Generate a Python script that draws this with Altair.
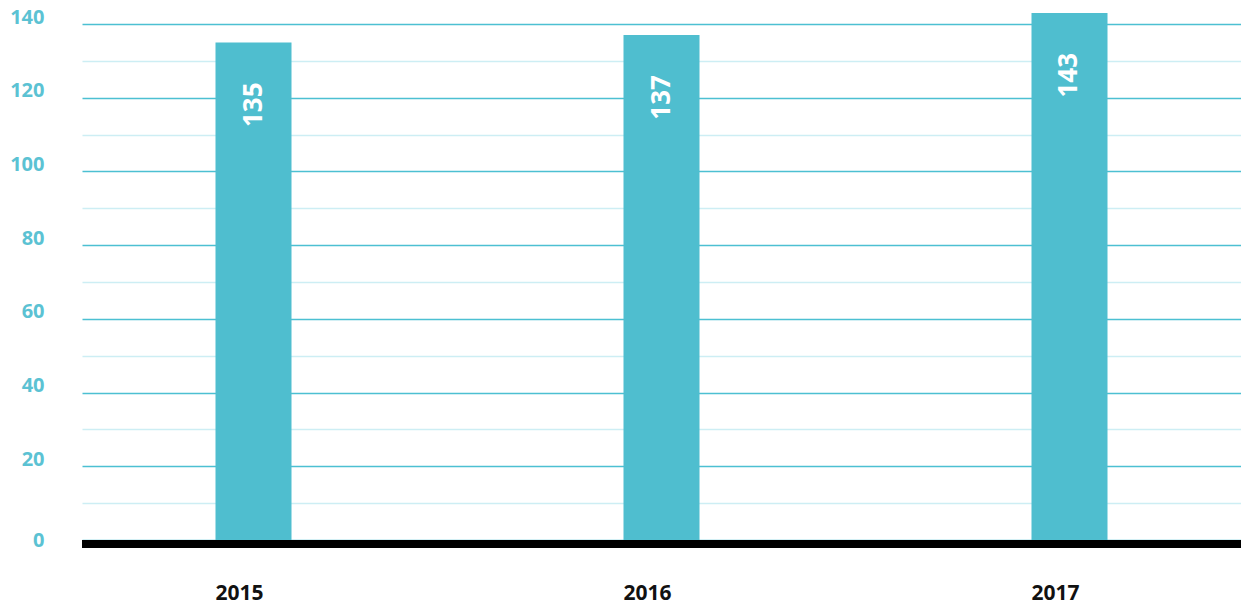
import altair as alt
import pandas as pd

years = ["2015", "2016", "2017"]
values = [135, 137, 143]

df = pd.DataFrame({"year": years, "value": values})

TEAL = "#4fbecf"
W, H = 1159, 516

x = alt.X(
    "year:N",
    sort=None,
    scale=alt.Scale(type="band", paddingInner=0.8137, paddingOuter=0.3272),
    axis=alt.Axis(
        title=None, domain=False, ticks=False, grid=False, labelAngle=0,
        labelFont="Open Sans", labelFontWeight="bold", labelFontSize=21,
        labelColor="#111111", labelPadding=42, labelOffset=-14,
    ),
)

y = alt.Y(
    "value:Q",
    scale=alt.Scale(domain=[0, 140], nice=False, zero=True),
    axis=alt.Axis(
        title=None, domain=False, ticks=False,
        values=list(range(0, 141, 10)),
        labelExpr="datum.value % 20 === 0 ? datum.label : ''",
        labelFont="Open Sans", labelFontWeight="bold", labelFontSize=20,
        labelColor="#5bc2d3", labelPadding=38,
        labelOffset={"condition": {"test": "datum.value === 0", "value": 0}, "value": -7},
        gridColor={"condition": {"test": "datum.value % 20 === 0", "value": "#4cc0d2"}, "value": "#cdeef4"},
        gridWidth={"condition": {"test": "datum.value % 20 === 0", "value": 1.5}, "value": 1.3},
    ),
)

bars = alt.Chart(df).mark_bar(color=TEAL).encode(x=x, y=y)

labels = alt.Chart(df).mark_text(
    angle=270, align="right", baseline="middle", yOffset=40,
    color="white", font="Open Sans", fontWeight="bold", fontSize=26,
).encode(x=x, y=y, text="value:Q")

baseline = alt.Chart(pd.DataFrame({"a": [0]})).mark_rule(color="black", strokeWidth=8).encode(
    x=alt.value(0), x2=alt.value(W), y=alt.value(H + 4)
)

chart = alt.layer(bars, labels, baseline).properties(
    width=W, height=H,
    autosize=alt.AutoSizeParams(type="none"),
    padding={"left": 82, "top": 24, "right": 0, "bottom": 65},
).configure(background="white").configure_view(stroke=None, strokeWidth=0)

chart.save("out.html", embed_options={"renderer": "svg", "actions": False})
